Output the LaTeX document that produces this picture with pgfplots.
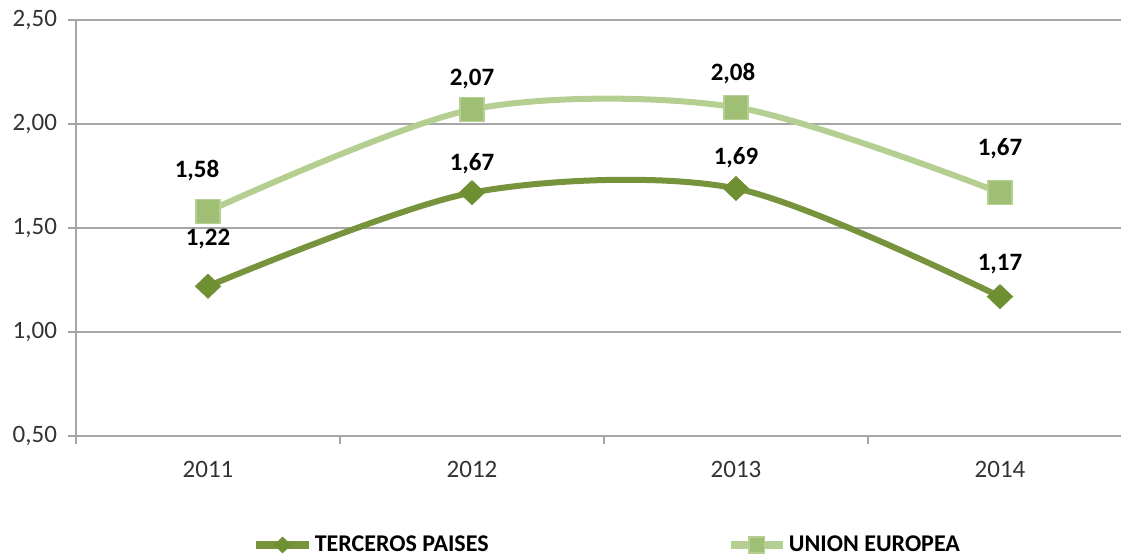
\documentclass[border=0pt]{standalone}
\usepackage{pgfplots}
\pgfplotsset{compat=1.18}
\usepackage{pgfplotstable}
\usepackage{fontspec}
\setmainfont{Carlito}

\definecolor{darkgreen}{HTML}{77933C}
\definecolor{darkmark}{HTML}{6F8F33}
\definecolor{lightgreen}{HTML}{B5CF92}
\definecolor{lightmark}{HTML}{9FBF74}
\definecolor{gridgray}{HTML}{A6A6A6}
\definecolor{ticktext}{HTML}{333333}

% x, value, label offsets in px (dx right, dy up)
\pgfplotstableread{
x y dx dy
0 1.22 0 47
1 1.67 0 29
2 1.69 0 31
3 1.17 0 33
}\terceros
\pgfplotstableread{
x y dx dy
0 1.58 -11 41
1 2.07 0 30
2 2.08 -3 34
3 1.67 0 44
}\ue

\begin{document}
\begin{tikzpicture}
\useasboundingbox (0pt,0pt) rectangle (560.5pt,277.5pt);
\begin{axis}[
    at={(38pt,59.5pt)}, anchor=south west,
    scale only axis, width=528pt, height=208pt,
    xmin=-0.5, xmax=3.5, ymin=0.5, ymax=2.5,
    axis x line*=bottom, axis y line*=left,
    axis line style={gridgray, line width=0.6pt},
    ymajorgrids, grid style={gridgray, line width=0.6pt},
    xtick={0,1,2,3}, xticklabels={2011,2012,2013,2014},
    major x tick style={draw=none},
    minor xtick={-0.5,0.5,1.5,2.5},
    minor tick length=4pt, major tick length=4pt,
    tick align=outside,
    tick style={gridgray, line width=0.6pt},
    ytick={0.5,1,1.5,2,2.5},
    tick label style={font=\fontsize{12.5}{14}\selectfont, text=ticktext},
    xticklabel style={yshift=-5pt},
    yticklabel style={xshift=-2pt, /pgf/number format/fixed, /pgf/number format/fixed zerofill,
        /pgf/number format/precision=2, /pgf/number format/use comma},
    /pgf/number format/assume math mode=true,
    clip=false,
    legend style={at={(0.503,-0.262)}, anchor=center, draw=none, fill=none,
        legend columns=2, font=\bfseries\fontsize{12}{14}\selectfont,
        /tikz/every even column/.append style={column sep=118pt},
        inner sep=0pt, nodes={inner sep=1pt}},
    legend image code/.code={\draw[mark repeat=2,mark phase=2,#1,line width=4pt,every mark/.append style={scale=0.65}]
        plot coordinates {(0cm,0cm)(0.46cm,0cm)(0.92cm,0cm)};},
    nodes near coords={\pgfmathprintnumber[fixed,fixed zerofill,precision=2,use comma]{\pgfplotspointmeta}},
    visualization depends on={\thisrow{dx} \as \labdx},
    visualization depends on={\thisrow{dy} \as \labdy},
    every node near coord/.append style={anchor=center, text=black,
        font=\bfseries\fontsize{12.5}{14}\selectfont,
        xshift=\labdx*0.5pt, yshift=\labdy*0.5pt},
]
\addplot[darkgreen, line width=3pt, smooth, mark=diamond*, mark size=6pt,
    mark options={fill=darkmark, draw=darkmark, line width=0.4pt, xscale=1.4}]
    table[x=x, y=y] {\terceros};
\addlegendentry{TERCEROS PAISES}
\addplot[lightgreen, line width=3pt, smooth, mark=square*, mark size=6pt,
    mark options={fill=lightmark, draw=lightgreen, line width=0.8pt}]
    table[x=x, y=y] {\ue};
\addlegendentry{UNION EUROPEA}
\end{axis}
\end{tikzpicture}
\end{document}
